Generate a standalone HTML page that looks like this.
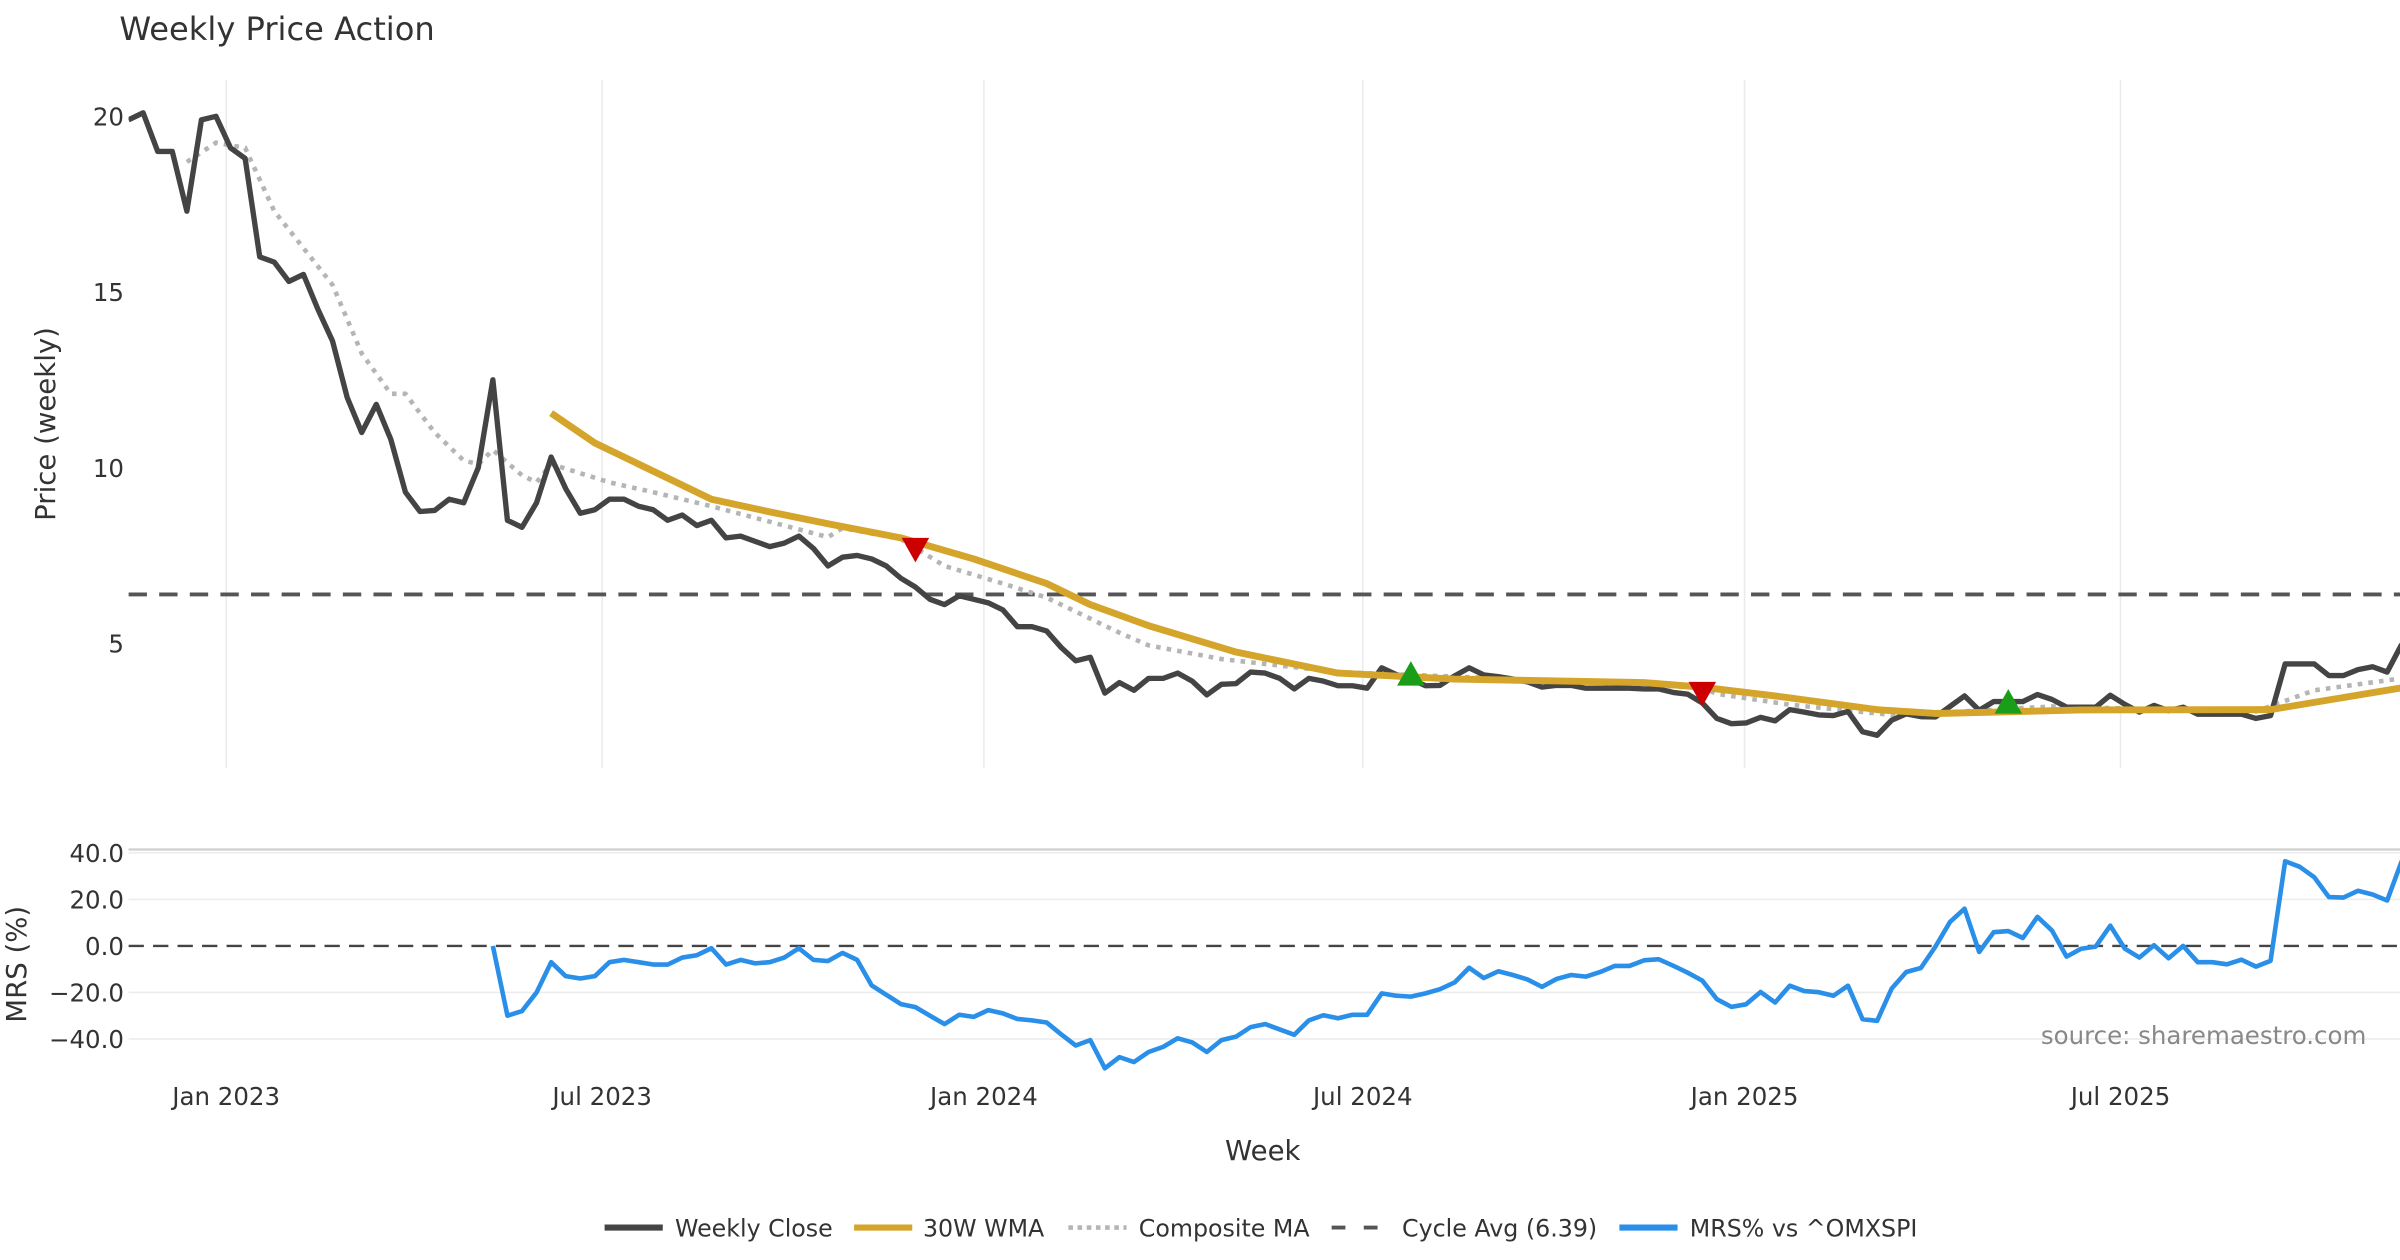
<!DOCTYPE html>
<html><head><meta charset="utf-8"><style>
html,body{margin:0;padding:0;background:#fff;}
svg{display:block;font-family:"DejaVu Sans","Liberation Sans",sans-serif;}
</style></head><body>
<svg id="chart" width="2400" height="1260" viewBox="0 0 1568 823.2" xmlns="http://www.w3.org/2000/svg">
<defs>
<clipPath id="clipTop"><rect x="84" y="52" width="1484" height="452"/></clipPath>
<clipPath id="clipBot"><rect x="84" y="552" width="1484" height="150"/></clipPath>
</defs>
<text x="78" y="26" font-size="21" fill="#333">Weekly Price Action</text>
<text transform="translate(36,277) rotate(-90)" text-anchor="middle" font-size="18" fill="#333">Price (weekly)</text>
<text transform="translate(17,630) rotate(-90)" text-anchor="middle" font-size="18" fill="#333">MRS (%)</text>
<g id="gridTop"></g>
<g id="gridBot"></g>
<g id="ticks"></g>
<g id="topPanel" clip-path="url(#clipTop)"></g>
<g id="botPanel" clip-path="url(#clipBot)"></g>
<text x="1546" y="682" text-anchor="end" font-size="16" fill="#888">source: sharemaestro.com</text>
<text x="825" y="758" text-anchor="middle" font-size="18" fill="#333">Week</text>
<g font-size="15.5" fill="#333">
<g><line x1="395" y1="802" x2="433" y2="802" stroke="#444" stroke-width="4"/><text x="441" y="808">Weekly Close</text></g>
<g><line x1="558" y1="802" x2="596" y2="802" stroke="#d4a52a" stroke-width="4"/><text x="603" y="808">30W WMA</text></g>
<g><line x1="698" y1="802" x2="736" y2="802" stroke="#b5b5b5" stroke-width="3" stroke-dasharray="3,3"/><text x="744" y="808">Composite MA</text></g>
<g><line x1="870" y1="802" x2="908" y2="802" stroke="#555" stroke-width="2.5" stroke-dasharray="9,12"/><text x="916" y="808">Cycle Avg (6.39)</text></g>
<g><line x1="1058" y1="802" x2="1096" y2="802" stroke="#2a8fe8" stroke-width="4"/><text x="1104" y="808">MRS% vs ^OMXSPI</text></g>
</g>
</svg>
<script>
const closeValues=[19.9,20.1,19.0,19.0,17.3,19.9,20.0,19.1,18.8,16.0,15.85,15.3,15.5,14.5,13.6,12.0,11.0,11.8,10.8,9.3,8.75,8.78,9.1,9.0,10.0,12.5,8.5,8.3,9.0,10.3,9.4,8.7,8.8,9.1,9.1,8.9,8.8,8.5,8.65,8.35,8.5,8.0,8.05,7.9,7.75,7.85,8.05,7.7,7.2,7.45,7.5,7.4,7.2,6.85,6.6,6.25,6.1,6.35,6.25,6.15,5.95,5.47,5.47,5.35,4.88,4.5,4.6,3.58,3.88,3.66,4.0,4.0,4.15,3.92,3.53,3.83,3.85,4.18,4.15,4.0,3.7,4.0,3.92,3.79,3.79,3.72,4.3,4.11,3.98,3.79,3.8,4.07,4.3,4.1,4.05,3.98,3.9,3.75,3.8,3.8,3.72,3.72,3.72,3.72,3.7,3.7,3.6,3.55,3.3,2.86,2.71,2.73,2.89,2.79,3.11,3.04,2.96,2.94,3.06,2.48,2.38,2.81,2.99,2.91,2.9,3.2,3.5,3.09,3.34,3.34,3.34,3.54,3.4,3.18,3.18,3.18,3.52,3.26,3.04,3.23,3.08,3.18,2.98,2.98,2.98,2.98,2.86,2.94,4.41,4.41,4.41,4.08,4.08,4.25,4.33,4.18,4.97];
const wmaWeeks=[29,32,37,40,44,48,53,58,63,66,70,76,83,91,104,108,113,120,124,134,147,156];
const wmaValues=[11.55,10.7,9.7,9.1,8.74,8.4,8.0,7.4,6.7,6.1,5.5,4.75,4.15,3.98,3.88,3.75,3.5,3.11,3.0,3.1,3.11,3.73];
const compWeeks=[4,6,8,10,12,14,16,18,19,21,23,24,25,27,28,29,33,36,40,48,49,53,56,60,63,68,70,75,83,91,100,108,109,114,121,126,132,140,146,150,156];
const compValues=[18.7,19.25,19.1,17.3,16.25,15.2,13.25,12.1,12.1,11.0,10.2,10.1,10.5,9.78,9.58,10.1,9.58,9.3,8.9,8.02,8.28,7.97,7.2,6.7,6.3,5.3,4.94,4.55,4.18,4.05,3.9,3.73,3.56,3.25,2.96,3.06,3.2,3.11,3.06,3.66,4.0];
const mrsStart=25;
const mrsValues=[0,-30,-28,-20,-7,-13,-14,-13,-7,-6,-7,-8,-8,-5,-4,-1,-8,-6,-7.5,-7,-5,-1,-6,-6.5,-3,-6,-17,-21,-25,-26.3,-30,-33.6,-29.6,-30.5,-27.6,-29,-31.4,-32,-32.9,-38,-42.8,-40.5,-52.6,-47.8,-49.9,-45.6,-43.4,-39.7,-41.5,-45.6,-40.5,-39,-34.9,-33.6,-35.9,-38.2,-32,-29.8,-31.1,-29.6,-29.6,-20.4,-21.4,-21.8,-20.4,-18.6,-15.7,-9.4,-13.8,-10.9,-12.5,-14.4,-17.6,-14.2,-12.5,-13.2,-11.2,-8.6,-8.6,-6.2,-5.7,-8.5,-11.5,-14.9,-22.9,-26.2,-25.1,-19.8,-24.3,-17.1,-19.4,-19.9,-21.4,-17.1,-31.5,-32.2,-18.3,-11.2,-9.5,-0.3,10.3,16,-2.6,5.9,6.4,3.4,12.5,6.6,-4.6,-1.2,-0.3,8.7,-1.2,-5,0.3,-5.3,0,-7,-7,-7.9,-5.9,-8.9,-6.4,36.4,34,29.5,21,20.8,23.7,22.1,19.5,36.5];
const sellWeeks=[54,108];
const sellValues=[7.65,3.55];
const buyWeeks=[88,129];
const buyValues=[4.1,3.3];
const cycleAvg=6.39;
const priceTicks=[20,15,10,5];
const mrsTicks=[40,20,0,-20,-40];
const mrsTickLabels=["40.0","20.0","0.0","−20.0","−40.0"];
const xTickWeeks=[6.7,32.5,58.7,84.7,110.9,136.7];
const xTickLabels=["Jan 2023","Jul 2023","Jan 2024","Jul 2024","Jan 2025","Jul 2025"];

const NS="http://www.w3.org/2000/svg";
const X=i=>84+i*9.52;
const YP=v=>76+(20-v)*22.95;
const YM=v=>618-v*1.52;
function mk(tag,attrs,parent){const e=document.createElementNS(NS,tag);for(const k in attrs)e.setAttribute(k,attrs[k]);parent.appendChild(e);return e;}
const gT=document.getElementById('gridTop'),gB=document.getElementById('gridBot'),tk=document.getElementById('ticks'),topG=document.getElementById('topPanel'),botG=document.getElementById('botPanel');

xTickWeeks.forEach((w,k)=>{
  const l=mk('line',{x1:X(w),x2:X(w),y1:52,y2:502,stroke:'#ebebeb','stroke-width':1},gT);
  
  
  const t=mk('text',{x:X(w),y:722,'text-anchor':'middle','font-size':16,fill:'#333'},tk);
  t.textContent=xTickLabels[k];
  
  
});
priceTicks.forEach(v=>{
  const t=mk('text',{x:81,y:YP(v)+6,'text-anchor':'end','font-size':16,fill:'#333'},tk);
  t.textContent=String(v);
  
  
});
const border=mk('line',{x1:84,x2:1568,y1:555,y2:555,stroke:'#cfcfcf','stroke-width':1.5},gB);


mrsTicks.forEach((v,k)=>{
  if(v!==0){const l=mk('line',{x1:84,x2:1568,y1:YM(v),y2:YM(v),stroke:'#ececec','stroke-width':1},gB);
  
  }
  const t=mk('text',{x:81,y:YM(v)+6,'text-anchor':'end','font-size':16,fill:'#333'},tk);
  t.textContent=mrsTickLabels[k];
  
  
});
const cyc=mk('line',{x1:84,x2:1568,y1:YP(cycleAvg),y2:YP(cycleAvg),stroke:'#555','stroke-width':2.5,'stroke-dasharray':'12,8'},topG);


const comp=mk('polyline',{points:compWeeks.map((w,k)=>X(w)+','+YP(compValues[k])).join(' '),fill:'none',stroke:'#b5b5b5','stroke-width':3,'stroke-dasharray':'3,4'},topG);


const cl=mk('polyline',{points:closeValues.map((v,i)=>X(i)+','+YP(v)).join(' '),fill:'none',stroke:'#444','stroke-width':3.5,'stroke-linejoin':'round'},topG);


const wma=mk('polyline',{points:wmaWeeks.map((w,k)=>X(w)+','+YP(wmaValues[k])).join(' '),fill:'none',stroke:'#d4a52a','stroke-width':4.5,'stroke-linejoin':'round'},topG);


sellWeeks.forEach((w,k)=>{const x=X(w),y=YP(sellValues[k]);
  const p=mk('polygon',{points:`${x-9},${y-8} ${x+9},${y-8} ${x},${y+8}`,fill:'#cc0000'},topG);
  
  });
buyWeeks.forEach((w,k)=>{const x=X(w),y=YP(buyValues[k]);
  const p=mk('polygon',{points:`${x-9},${y+7} ${x+9},${y+7} ${x},${y-9}`,fill:'#1a9e1a'},topG);
  
  });
const zl=mk('line',{x1:84,x2:1568,y1:YM(0),y2:YM(0),stroke:'#444','stroke-width':1.6,'stroke-dasharray':'10,6'},botG);


const mrs=mk('polyline',{points:mrsValues.map((v,k)=>X(mrsStart+k)+','+YM(v)).join(' '),fill:'none',stroke:'#2a8fe8','stroke-width':3,'stroke-linejoin':'round'},botG);


</script>
</body></html>
